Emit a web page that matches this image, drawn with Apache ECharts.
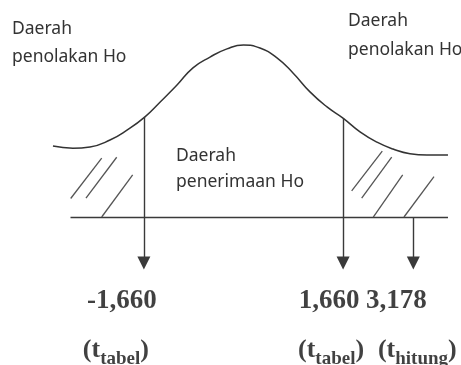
<!DOCTYPE html>
<html>
<head>
<meta charset="utf-8">
<script src="https://cdn.jsdelivr.net/npm/echarts@6/dist/echarts.min.js"></script>
<style>
  html, body { margin: 0; padding: 0; background: #fff; }
  #chart { width: 461px; height: 365px; }
</style>
</head>
<body>
<div id="chart"></div>
<script>
// curve (t on x, height on y)
const curveT = [-3.175, -2.842, -2.558, -2.225, -1.942, -1.642, -1.392, -1.108, -0.842, -0.558, -0.275, 0,
  0.275, 0.558, 0.825, 1.108, 1.392, 1.658, 1.942, 2.225, 2.492, 2.775, 3.058, 3.408];
const curveY = [0.165, 0.160, 0.163, 0.179, 0.202, 0.233, 0.267, 0.307, 0.347, 0.372, 0.391, 0.400,
  0.393, 0.370, 0.335, 0.291, 0.256, 0.230, 0.198, 0.174, 0.158, 0.147, 0.144, 0.144];

// horizontal axis line
const baseFrom = -2.883;
const baseTo = 3.408;

// arrows: where they sit on the sketch, where the shaft starts
const arrowT = [-1.66, 1.66, 2.83];
const arrowTop = [0.233, 0.230, 0];
const arrowEnd = -0.107;

// labels under the arrows
const tickText = ['-1,660', '1,660', '3,178'];
const tickSub = ['tabel', 'tabel', 'hitung'];

// hatch strokes [t0, y0, t1, y1]
const hatch = [
  [-2.880, 0.043, -2.363, 0.137],
  [-2.625, 0.044, -2.113, 0.139],
  [-2.363, 0.000, -1.847, 0.098],
  [1.803, 0.061, 2.313, 0.153],
  [1.970, 0.044, 2.470, 0.139],
  [2.163, 0.000, 2.653, 0.098],
  [2.675, 0.000, 3.175, 0.094]
];

const numOffset = [[-22, 32], [-14, 32], [-17, 32]];
const subOffset = [[-28, 84], [-12, 84], [4, 84]];

const chart = echarts.init(document.getElementById('chart'));

const lineStyle = { color: '#3a3a3a', width: 1.4, type: 'solid' };
const areaFont = '17.5px "Noto Sans"';

const option = {
  animation: false,
  grid: { left: 0, right: 0, top: 0, bottom: 0 },
  xAxis: { type: 'value', min: -4.058, max: 3.625, show: false },
  yAxis: { type: 'value', min: -0.3442, max: 0.5047, show: false },
  graphic: [
    { type: 'text', x: 12, y: 29, style: { text: 'Daerah', font: areaFont, fill: '#333', textVerticalAlign: 'middle' } },
    { type: 'text', x: 12, y: 57, style: { text: 'penolakan Ho', font: areaFont, fill: '#333', textVerticalAlign: 'middle' } },
    { type: 'text', x: 348, y: 21, style: { text: 'Daerah', font: areaFont, fill: '#333', textVerticalAlign: 'middle' } },
    { type: 'text', x: 348, y: 50, style: { text: 'penolakan Ho', font: areaFont, fill: '#333', textVerticalAlign: 'middle' } },
    { type: 'text', x: 176, y: 156, style: { text: 'Daerah', font: areaFont, fill: '#333', textVerticalAlign: 'middle' } },
    { type: 'text', x: 176, y: 182, style: { text: 'penerimaan Ho', font: areaFont, fill: '#333', textVerticalAlign: 'middle' } }
  ],
  series: [
    {
      name: 'kurva',
      type: 'line',
      smooth: true,
      symbol: 'none',
      data: curveT.map((t, i) => [t, curveY[i]]),
      lineStyle: { color: '#333', width: 1.5 },
      silent: true,
      markLine: {
        silent: true,
        symbol: ['none', 'none'],
        label: { show: false },
        lineStyle: lineStyle,
        data: [[{ coord: [baseFrom, 0] }, { coord: [baseTo, 0] }]].concat(
          hatch.map(h => [{ coord: [h[0], h[1]], lineStyle: { color: '#555', width: 1.3 } }, { coord: [h[2], h[3]] }])
        )
      }
    },
    {
      name: 'panah',
      type: 'line',
      data: [],
      markLine: {
        silent: true,
        symbol: ['none', 'triangle'],
        symbolSize: [13, 13],
        label: { show: false },
        lineStyle: lineStyle,
        itemStyle: { color: '#1a1a1a' },
        data: arrowT.map((t, i) => [{ coord: [t, arrowTop[i]] }, { coord: [t, arrowEnd] }])
      }
    },
    {
      name: 'angka',
      type: 'scatter',
      symbolSize: 0,
      silent: true,
      data: arrowT.map((t, i) => ({
        value: [t, -0.121],
        label: {
          show: true,
          position: 'inside',
          offset: numOffset[i],
          formatter: tickText[i],
          fontFamily: '"Liberation Serif", serif',
          fontWeight: 'bold',
          fontSize: 27,
          color: '#111'
        }
      }))
    },
    {
      name: 'sub',
      type: 'scatter',
      symbolSize: 0,
      silent: true,
      data: arrowT.map((t, i) => ({
        value: [t, -0.121],
        label: {
          show: true,
          position: 'inside',
          offset: subOffset[i],
          formatter: '{p|(}{t|t}{s|' + tickSub[i] + '}{p|)}',
          rich: {
            p: { fontFamily: '"Liberation Serif", serif', fontWeight: 'bold', fontSize: 26, color: '#111', verticalAlign: 'bottom', padding: [0, 0, 5, 0] },
            t: { fontFamily: '"Liberation Serif", serif', fontWeight: 'bold', fontSize: 26, color: '#111', verticalAlign: 'bottom', padding: [0, 0, 5, 0] },
            s: { fontFamily: '"Liberation Serif", serif', fontWeight: 'bold', fontSize: 19, color: '#111', verticalAlign: 'bottom' }
          }
        }
      }))
    }
  ]
};

chart.setOption(option);
</script>
</body>
</html>
